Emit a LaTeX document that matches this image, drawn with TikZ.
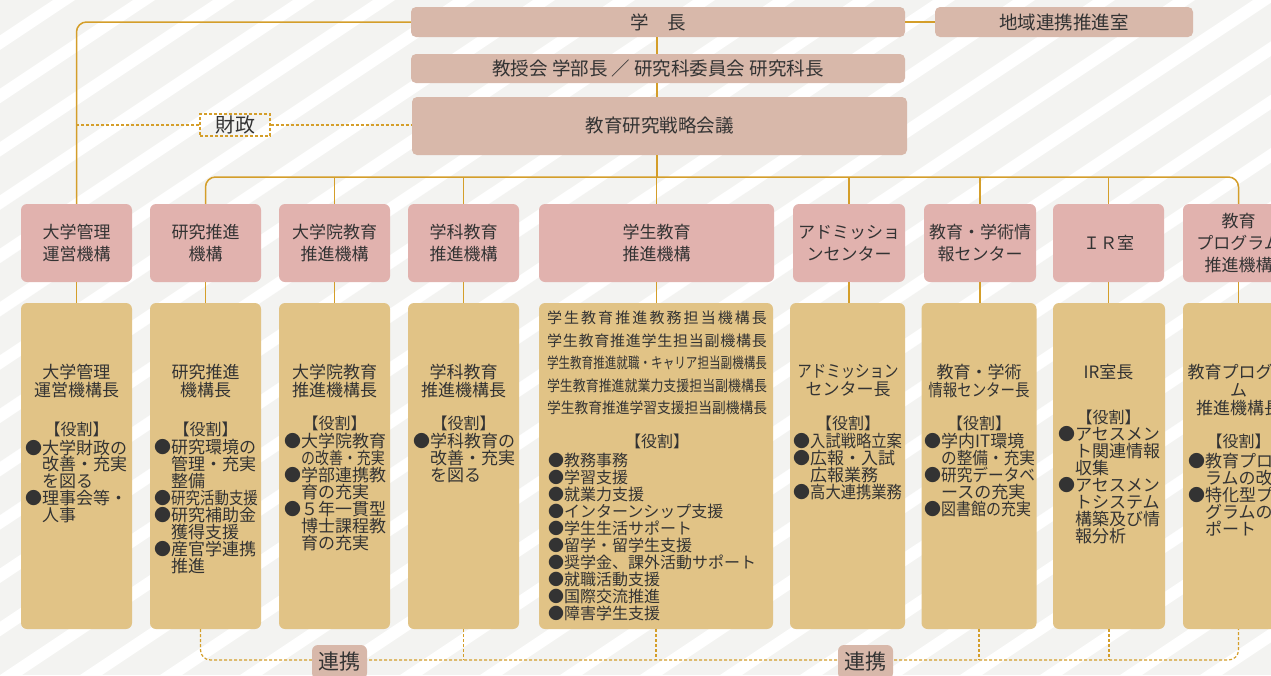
\documentclass[tikz,border=0pt]{standalone}
\usepackage{fontspec}
\usepackage{graphicx}
\setmainfont{Noto Sans CJK JP}
\definecolor{bgc}{HTML}{F3F3F1}
\definecolor{topc}{HTML}{D8B8AA}
\definecolor{pinkc}{HTML}{E1B2AE}
\definecolor{goldc}{HTML}{E1C386}
\definecolor{linec}{HTML}{D49E2A}
\definecolor{txt}{HTML}{333333}
\newcommand\fsz[2]{\fontsize{#1}{#2}\selectfont}
\newcommand\bu{●}
\newcommand\ind{\hphantom{●}}
\newcommand\sx[2]{\scalebox{#1}[1]{#2}}
\def\spr#1{#1\futurelet\sprnext\sprchk}
\def\sprchk{\ifx\sprnext\relax\expandafter\sprend\else\hfil\expandafter\spr\fi}
\def\sprend\relax{}
\newcommand\spline[1]{\hbox to 220pt{\spr #1\relax}}
\newcommand\rsline[1]{\resizebox{220pt}{\height}{#1}}
\begin{document}
\begin{tikzpicture}[x=1pt,y=-1pt,
  topbox/.style={fill=topc, rounded corners=5pt, inner sep=0pt, text=txt, font=\fsz{18.5}{22}},
  hbox/.style={fill=pinkc, rounded corners=6pt, minimum width=111pt, minimum height=78pt, inner sep=0pt, align=center, text=txt, font=\fsz{17}{22}},
  gbox/.style={fill=goldc, rounded corners=6pt, minimum width=111pt, minimum height=326pt, inner sep=0pt},
  ttl/.style={align=center, inner sep=0pt, text=txt, font=\fsz{17}{18}},
  rh/.style={inner sep=0pt, text=txt, font=\fsz{16}{17}},
  roles/.style={align=left, inner sep=0pt, anchor=north west, text=txt, font=\fsz{17}{17}},
  conn/.style={draw=linec, line width=1.5pt},
  dconn/.style={draw=linec, line width=1.2pt, dash pattern=on 3pt off 2pt},
  rkbox/.style={fill=topc, rounded corners=6pt, minimum width=55pt, minimum height=34pt, inner sep=0pt, text=txt, font=\fsz{21}{24}}
]
\useasboundingbox (0,0) rectangle (1271,675);
\clip (0,0) rectangle (1271,675);
\fill[bgc] (0,0) rectangle (1271,675);
\foreach \i in {-14,...,17}
  \fill[white] ({\i*80},675) -- ({\i*80+22},675) -- ({\i*80+22+1013},0) -- ({\i*80+1013},0) -- cycle;

% top level
\node[topbox, minimum width=494pt, minimum height=30pt] (gakucho) at (658,22) {学　長};
\node[topbox, minimum width=258pt, minimum height=30pt] (chiiki) at (1064,22) {地域連携推進室};
\node[topbox, minimum width=494pt, minimum height=29pt] (kyoju) at (658,68.5) {教授会 学部長 ／ 研究科委員会 研究科長};
\node[topbox, minimum width=495pt, minimum height=58pt] (senryaku) at (659.5,126) {教育研究戦略会議};
\node[draw=linec, line width=1.2pt, dash pattern=on 3pt off 2pt, minimum width=70pt, minimum height=22pt, inner sep=0pt, text=txt, font=\fsz{20}{22}] (zaisei) at (235,125) {財政};

% header boxes
\node[hbox] (h1) at (76.5,243) {大学管理\\運営機構};
\node[hbox] (h2) at (205.5,243) {研究推進\\機構};
\node[hbox] (h3) at (334.5,243) {大学院教育\\推進機構};
\node[hbox] (h4) at (463.5,243) {学科教育\\推進機構};
\node[hbox, minimum width=235pt] (h5) at (656.5,243) {学生教育\\推進機構};
\node[hbox, minimum width=112pt] (h6) at (849,243) {アドミッショ\\ンセンター};
\node[hbox, minimum width=112pt] (h7) at (980,243) {教育・学術情\\報センター};
\node[hbox] (h8) at (1108.5,243) {ＩＲ室};
\node[hbox] (h9) at (1238.5,243) {教育\\プログラム\\推進機構};

% gold boxes
\node[gbox] (b1) at (76.5,466) {};
\node[gbox] (b2) at (205.5,466) {};
\node[gbox] (b3) at (334.5,466) {};
\node[gbox] (b4) at (463.5,466) {};
\node[gbox, minimum width=234pt] (b5) at (656,466) {};
\node[gbox, minimum width=115pt] (b6) at (847.5,466) {};
\node[gbox, minimum width=115pt] (b7) at (979,466) {};
\node[gbox, minimum width=112pt] (b8) at (1109,466) {};
\node[gbox] (b9) at (1238.5,466) {};

% connectors
\coordinate (bus) at (657,177);
\coordinate (rk) at (657,660);
\draw[conn] (gakucho.east) -- (chiiki.west);
\draw[conn, rounded corners=10pt] (gakucho.west) -| (h1.north);
\draw[conn] (bus |- gakucho.south) -- (bus |- kyoju.north);
\draw[conn] (bus |- kyoju.south) -- (bus |- senryaku.north);
\draw[conn] (bus |- senryaku.south) -- (bus);
\draw[conn, rounded corners=10pt] (h2.north) -- (h2.north |- bus) -- (h9.north |- bus) -- (h9.north);
\foreach \n in {h3,h4,h5,h6,h7,h8} \draw[conn] (\n.north) -- (\n.north |- bus);
\foreach \n in {1,...,9} \draw[conn] (h\n.south) -- (h\n.south |- b\n.north);
\draw[dconn] (zaisei.west) -- (h1.north |- zaisei.west);
\draw[dconn] (zaisei.east) -- (senryaku.west |- zaisei.east);
\draw[dconn, rounded corners=10pt] ([xshift=-5pt]b2.south) -- ([xshift=-5pt]b2.south |- rk) -- (b9.south |- rk) -- (b9.south);
\foreach \n in {b4,b5,b7,b8} \draw[dconn] (\n.south) -- (\n.south |- rk);
\node[rkbox] (rk1) at (339.5,662) {連携};
\node[rkbox] (rk2) at (865.5,662) {連携};

% box 1
\node[ttl] (t1) at (76.5,381) {大学管理\\運営機構長};
\node[rh] (y1) at (76.5,429) {【役割】};
\node[roles, font=\fsz{17}{16.8}] (r1) at (25,439.5) {\bu 大学財政の\\\ind 改善・充実\\\ind を図る\\\bu 理事会等・\\\ind 人事};
% box 2
\node[ttl] (t2) at (205.5,381) {研究推進\\機構長};
\node[rh] (y2) at (205.5,429) {【役割】};
\node[roles] (r2) at (154,438.5) {\bu 研究環境の\\\ind 管理・充実\\\ind 整備\\\bu \sx{0.85}{研究活動支援}\\\bu 研究補助金\\\ind 獲得支援\\\bu 産官学連携\\\ind 推進};
% box 3
\node[ttl] (t3) at (334.5,381) {大学院教育\\推進機構長};
\node[rh] (y3) at (334.5,423) {【役割】};
\node[roles] (r3) at (284,432.5) {\bu 大学院教育\\\ind \sx{0.82}{の改善・充実}\\\bu 学部連携教\\\ind 育の充実\\\bu ５年一貫型\\\ind 博士課程教\\\ind 育の充実};
% box 4
\node[ttl] (t4) at (463.5,381) {学科教育\\推進機構長};
\node[rh] (y4) at (463.5,423) {【役割】};
\node[roles] (r4) at (413,432.5) {\bu 学科教育の\\\ind 改善・充実\\\ind を図る};
% box 5
\node[align=center, inner sep=0pt, text=txt, font=\fsz{15}{22.5}] (t5) at (657,363) {\spline{学生教育推進教務担当機構長}\\\spline{学生教育推進学生担当副機構長}\\\rsline{学生教育推進就職・キャリア担当副機構長}\\\rsline{学生教育推進就業力支援担当副機構長}\\\rsline{学生教育推進学習支援担当副機構長}};
\node[rh] (y5) at (657,441) {【役割】};
\node[roles, font=\fsz{16}{17}] (r5) at (548,452.5) {\bu 教務事務\\\bu 学習支援\\\bu 就業力支援\\\bu インターンシップ支援\\\bu 学生生活サポート\\\bu 留学・留学生支援\\\bu 奨学金、課外活動サポート\\\bu 就職活動支援\\\bu 国際交流推進\\\bu 障害学生支援};
% box 6
\node[ttl] (t6) at (848,381) {\sx{0.85}{アドミッション}\\センター長};
\node[rh] (y6) at (848,423) {【役割】};
\node[roles] (r6) at (793,432.5) {\bu \sx{0.9}{入試戦略立案}\\\bu 広報・入試\\\ind 広報業務\\\bu \sx{0.9}{高大連携業務}};
% box 7
\node[ttl] (t7) at (979,381) {教育・学術\\\sx{0.85}{情報センター長}};
\node[rh] (y7) at (979,423) {【役割】};
\node[roles] (r7) at (924,432.5) {\bu 学内IT環境\\\ind \sx{0.92}{の整備・充実}\\\bu \sx{0.92}{研究データベ}\\\ind ースの充実\\\bu \sx{0.88}{図書館の充実}};
% box 8
\node[ttl] (t8) at (1108.5,372) {IR室長};
\node[rh] (y8) at (1108.5,417) {【役割】};
\node[roles] (r8) at (1058,426.5) {\bu アセスメン\\\ind ト関連情報\\\ind 収集\\\bu アセスメン\\\ind トシステム\\\ind 構築及び情\\\ind 報分析};
% box 9
\node[ttl] (t9) at (1238.5,390) {教育プログラ\\ム\\推進機構長};
\node[rh] (y9) at (1238.5,441) {【役割】};
\node[roles] (r9) at (1188,452.5) {\bu 教育プログ\\\ind ラムの改善\\\bu 特化型プロ\\\ind グラムのサ\\\ind ポート};
\end{tikzpicture}
\end{document}
